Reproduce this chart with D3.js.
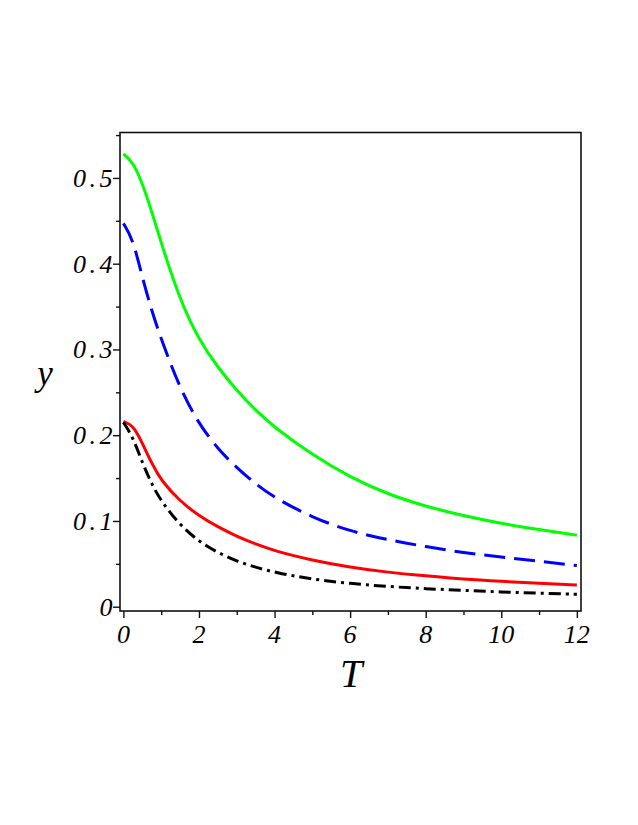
<!DOCTYPE html>
<html>
<head>
<meta charset="utf-8">
<script src="https://cdn.jsdelivr.net/npm/d3@7"></script>
<style>
  html, body { margin: 0; padding: 0; background: #fff; }
  svg { display: block; }
  .lbl { font-family: "Liberation Serif", "DejaVu Serif", serif; font-style: italic; fill: #000; }
</style>
</head>
<body>
<svg id="chart" width="638" height="825"></svg>
<script>
// ---- data ----
const T = [0, 0.25, 0.5, 0.75, 1, 1.5, 2, 2.5, 3, 3.5, 4, 5, 6, 7, 8, 9, 10, 11, 12];
const greenY = [0.528, 0.519, 0.494, 0.461, 0.424, 0.357, 0.311, 0.279, 0.252, 0.229, 0.209, 0.177, 0.151, 0.131, 0.117, 0.106, 0.097, 0.090, 0.0835];
const blueY  = [0.447, 0.429, 0.384, 0.345, 0.312, 0.254, 0.213, 0.184, 0.162, 0.143, 0.127, 0.104, 0.088, 0.078, 0.070, 0.063, 0.058, 0.053, 0.048];
const redY   = [0.216, 0.212, 0.191, 0.167, 0.147, 0.123, 0.106, 0.093, 0.082, 0.073, 0.065, 0.054, 0.046, 0.040, 0.036, 0.032, 0.0295, 0.0273, 0.0253];
const blackY = [0.215, 0.198, 0.168, 0.143, 0.123, 0.095, 0.076, 0.063, 0.053, 0.046, 0.040, 0.032, 0.027, 0.0235, 0.021, 0.019, 0.0172, 0.0158, 0.0145];
const xTicks = [0, 2, 4, 6, 8, 10, 12];
const xMinor = [1, 3, 5, 7, 9, 11];
const yTicks = [0, 0.1, 0.2, 0.3, 0.4, 0.5];
const yTickLabels = ["0", "0.1", "0.2", "0.3", "0.4", "0.5"];
const yMinor = [0.05, 0.15, 0.25, 0.35, 0.45, 0.55];
const xLabel = "T";
const yLabel = "y";

const series = [
  { name: "green", values: greenY, color: "#00ff00", dash: null },
  { name: "blue", values: blueY, color: "#0000ff", dash: "21,9" },
  { name: "red", values: redY, color: "#ff0000", dash: null },
  { name: "black", values: blackY, color: "#000000", dash: "12,5,3,5" }
];

// ---- layout ----
const svg = d3.select("#chart");
const pLeft = 120, pRight = 581, pTop = 132.5, pBottom = 611;
const x = d3.scaleLinear().domain([-0.09, 12.11]).range([pLeft, pRight]);
const y = d3.scaleLinear().domain([-0.005, 0.553]).range([pBottom, pTop]);

const line = d3.line()
  .x((d, i) => x(T[i]))
  .y(d => y(d))
  .curve(d3.curveBasis);

// curves
const plot = svg.append("g");
series.forEach(s => {
  plot.append("path")
    .attr("d", line(s.values))
    .attr("fill", "none")
    .attr("stroke", s.color)
    .attr("stroke-width", 3)
    .attr("stroke-dasharray", s.dash)
    .attr("stroke-linejoin", "round");
});

// frame
svg.append("rect")
  .attr("x", pLeft).attr("y", pTop)
  .attr("width", pRight - pLeft).attr("height", pBottom - pTop)
  .attr("fill", "none").attr("stroke", "#111").attr("stroke-width", 1.6);

// axes ticks
const xAxisMajor = d3.axisBottom(x).tickValues(xTicks).tickSize(7).tickFormat("");
const xAxisMinor = d3.axisBottom(x).tickValues(xMinor).tickSize(4).tickFormat("");
const yAxisMajor = d3.axisLeft(y).tickValues(yTicks).tickSize(7).tickFormat("");
const yAxisMinor = d3.axisLeft(y).tickValues(yMinor).tickSize(4).tickFormat("");

[xAxisMajor, xAxisMinor].forEach(a => {
  const g = svg.append("g").attr("transform", `translate(0,${pBottom})`).call(a);
  g.select(".domain").remove();
  g.selectAll("line").attr("stroke", "#111").attr("stroke-width", 1.4);
});
[yAxisMajor, yAxisMinor].forEach(a => {
  const g = svg.append("g").attr("transform", `translate(${pLeft},0)`).call(a);
  g.select(".domain").remove();
  g.selectAll("line").attr("stroke", "#111").attr("stroke-width", 1.4);
});

// tick labels
svg.append("g").selectAll("text")
  .data(xTicks).join("text")
  .attr("class", "lbl")
  .attr("x", d => x(d))
  .attr("y", 643)
  .attr("text-anchor", "middle")
  .attr("font-size", 26)
  .text(d => d);

svg.append("g").selectAll("text")
  .data(yTicks).join("text")
  .attr("class", "lbl")
  .attr("x", 116)
  .attr("y", d => y(d) + 9)
  .attr("text-anchor", "end")
  .attr("font-size", 26)
  .attr("letter-spacing", 3.5)
  .text((d, i) => yTickLabels[i]);

// axis titles
svg.append("text").attr("class", "lbl")
  .attr("x", 45).attr("y", 385)
  .attr("text-anchor", "middle")
  .attr("font-size", 35)
  .text(yLabel);

svg.append("text").attr("class", "lbl")
  .attr("x", 351).attr("y", 687)
  .attr("text-anchor", "middle")
  .attr("font-size", 40)
  .text(xLabel);
</script>
</body>
</html>
